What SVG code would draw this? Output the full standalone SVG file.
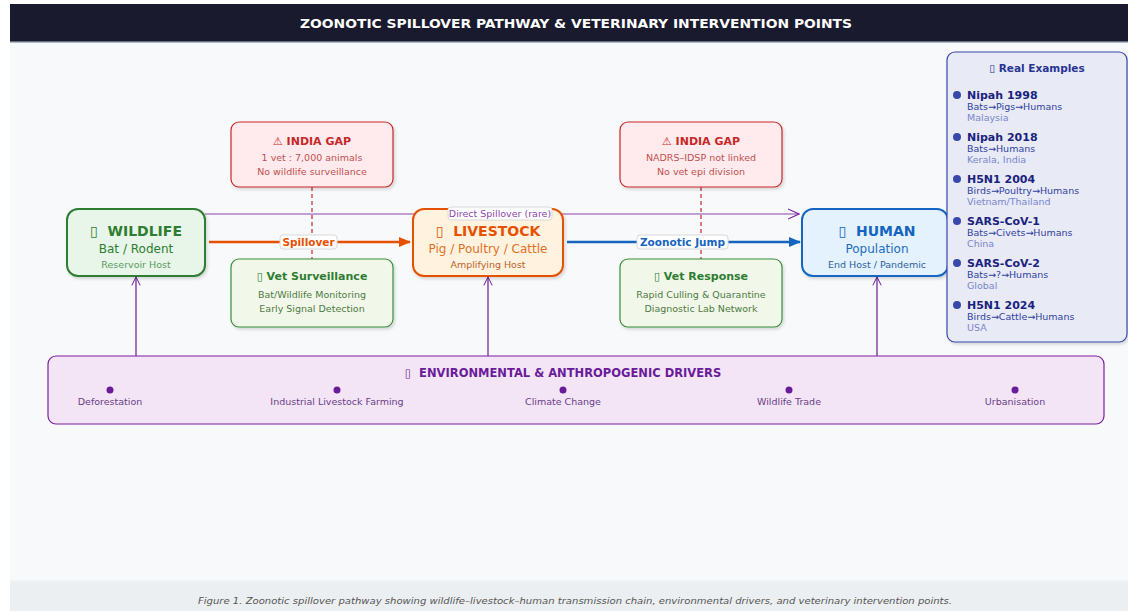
<svg xmlns="http://www.w3.org/2000/svg" width="1128" height="611" viewBox="0 0 1128 611">
<style>
text{font-family:"DejaVu Sans","Noto Sans",sans-serif}
.t{font-family:"DejaVu Sans Condensed","DejaVu Sans",sans-serif;font-weight:bold;fill:#fff;font-size:13px}
.cap{font-family:"DejaVu Sans Condensed","DejaVu Sans",sans-serif;font-style:italic;fill:#555;font-size:9.5px}
.nt{font-weight:bold;font-size:14px}
.ns{font-size:12px}
.nh{font-size:9.5px}
.gh{font-weight:bold;font-size:11px;fill:#c62828}
.gs{font-size:9.5px;fill:#c0504d}
.vh{font-weight:bold;font-size:11px;fill:#2e7d32}
.vs{font-size:9.5px;fill:#4f7a43}
.dr{font-size:9.5px;fill:#6a3d8a}
.eh{font-weight:bold;font-size:11px;fill:#1a237e}
.es{font-size:9.5px;fill:#303f9f}
.el{font-size:9.5px;fill:#7986cb}
.lbl{fill:#fff;stroke:#d8d8d8;stroke-width:1}
.tf{font-weight:normal}
</style>
<defs>
<filter id="sh" x="-10%" y="-10%" width="125%" height="130%">
<feDropShadow dx="1.5" dy="2" stdDeviation="1.5" flood-color="#000" flood-opacity="0.15"/>
</filter>
<marker id="aO" viewBox="0 0 10 10" refX="9" refY="5" markerWidth="5" markerHeight="5" orient="auto" markerUnits="strokeWidth">
<path d="M0,1 L10,5 L0,9 Z" fill="#e65100"/>
</marker>
<marker id="aB" viewBox="0 0 10 10" refX="9" refY="5" markerWidth="5" markerHeight="5" orient="auto" markerUnits="strokeWidth">
<path d="M0,1 L10,5 L0,9 Z" fill="#1565c0"/>
</marker>
<marker id="aP" viewBox="0 0 12 12" refX="11" refY="6" markerWidth="12" markerHeight="12" orient="auto" markerUnits="userSpaceOnUse">
<path d="M0,1 L11,6 L0,11" fill="none" stroke="#7b1fa2" stroke-width="1.1"/>
</marker>
<marker id="aV" viewBox="0 0 12 12" refX="11" refY="6" markerWidth="10" markerHeight="10" orient="auto" markerUnits="userSpaceOnUse">
<path d="M1,1 L11,6 L1,11" fill="none" stroke="#6a1b9a" stroke-width="1.2"/>
</marker>
</defs>

<rect x="0" y="0" width="1128" height="611" fill="#ffffff"/>
<rect x="10" y="42" width="1118" height="540" fill="#f8f9fa"/>
<rect x="10" y="581" width="1118" height="30" fill="#eceff1"/>
<rect x="10" y="580" width="1118" height="1.5" fill="#f1f5f9"/>
<rect x="10" y="4" width="1118" height="38" fill="#1a1a2e"/>
<rect x="10" y="41.5" width="1118" height="1.5" fill="#b0bec5"/>
<text class="t" x="576" y="28" text-anchor="middle" textLength="552" lengthAdjust="spacingAndGlyphs">ZOONOTIC SPILLOVER PATHWAY &amp; VETERINARY INTERVENTION POINTS</text>
<text class="cap" x="575" y="604" text-anchor="middle" textLength="754" lengthAdjust="spacingAndGlyphs">Figure 1. Zoonotic spillover pathway showing wildlife–livestock–human transmission chain, environmental drivers, and veterinary intervention points.</text>

<g id="connectors">
<line x1="312" y1="187" x2="312" y2="259" stroke="#c62828" stroke-width="1.2" stroke-dasharray="4,3"/>
<line x1="701" y1="187" x2="701" y2="259" stroke="#c62828" stroke-width="1.2" stroke-dasharray="4,3"/>
<line x1="205" y1="214" x2="799" y2="214" stroke="#8e44ad" stroke-width="1.2" marker-end="url(#aP)"/>
<line x1="209" y1="242" x2="410" y2="242" stroke="#e65100" stroke-width="2.5" marker-end="url(#aO)"/>
<line x1="567" y1="242" x2="800" y2="242" stroke="#1565c0" stroke-width="2.5" marker-end="url(#aB)"/>
<line x1="136" y1="356" x2="136" y2="277" stroke="#6a1b9a" stroke-width="1.2" marker-end="url(#aV)"/>
<line x1="488" y1="356" x2="488" y2="277" stroke="#6a1b9a" stroke-width="1.2" marker-end="url(#aV)"/>
<line x1="877" y1="356" x2="877" y2="277" stroke="#6a1b9a" stroke-width="1.2" marker-end="url(#aV)"/>
</g>

<g id="gap1">
<rect x="231" y="122" width="162" height="65" rx="8" fill="#ffebee" stroke="#c62828" stroke-width="1.2" filter="url(#sh)"/>
<text class="gh" x="312" y="145" text-anchor="middle">⚠︎ INDIA GAP</text>
<text class="gs" x="312" y="161" text-anchor="middle">1 vet : 7,000 animals</text>
<text class="gs" x="312" y="175" text-anchor="middle">No wildlife surveillance</text>
</g>
<g id="gap2">
<rect x="620" y="122" width="162" height="65" rx="8" fill="#ffebee" stroke="#c62828" stroke-width="1.2" filter="url(#sh)"/>
<text class="gh" x="701" y="145" text-anchor="middle">⚠︎ INDIA GAP</text>
<text class="gs" x="701" y="161" text-anchor="middle">NADRS–IDSP not linked</text>
<text class="gs" x="701" y="175" text-anchor="middle">No vet epi division</text>
</g>

<g id="vet1">
<rect x="231" y="259" width="162" height="68" rx="8" fill="#f1f8e9" stroke="#388e3c" stroke-width="1.2" filter="url(#sh)"/>
<text class="vh" x="312" y="280" text-anchor="middle"><tspan class="tf">▯</tspan> Vet Surveillance</text>
<text class="vs" x="312" y="298" text-anchor="middle">Bat/Wildlife Monitoring</text>
<text class="vs" x="312" y="312" text-anchor="middle">Early Signal Detection</text>
</g>
<g id="vet2">
<rect x="620" y="259" width="162" height="68" rx="8" fill="#f1f8e9" stroke="#388e3c" stroke-width="1.2" filter="url(#sh)"/>
<text class="vh" x="701" y="280" text-anchor="middle"><tspan class="tf">▯</tspan> Vet Response</text>
<text class="vs" x="701" y="298" text-anchor="middle">Rapid Culling &amp; Quarantine</text>
<text class="vs" x="701" y="312" text-anchor="middle">Diagnostic Lab Network</text>
</g>

<g id="wildlife">
<rect x="67" y="209" width="138" height="67" rx="11" fill="#e8f5e9" stroke="#2e7d32" stroke-width="2" filter="url(#sh)"/>
<text class="nt" x="136" y="236" text-anchor="middle" fill="#2e7d32" xml:space="preserve"><tspan class="tf">▯</tspan>  WILDLIFE</text>
<text class="ns" x="136" y="253" text-anchor="middle" fill="#2e7d32">Bat / Rodent</text>
<text class="nh" x="136" y="268" text-anchor="middle" fill="#5a9a5e">Reservoir Host</text>
</g>
<g id="livestock">
<rect x="413" y="209" width="150" height="67" rx="11" fill="#fff3e0" stroke="#e65100" stroke-width="2" filter="url(#sh)"/>
<text class="nt" x="488" y="236" text-anchor="middle" fill="#e65100" xml:space="preserve"><tspan class="tf">▯</tspan>  LIVESTOCK</text>
<text class="ns" x="488" y="253" text-anchor="middle" fill="#e0711f">Pig / Poultry / Cattle</text>
<text class="nh" x="488" y="268" text-anchor="middle" fill="#c0602a">Amplifying Host</text>
</g>
<g id="human">
<rect x="802" y="209" width="146" height="67" rx="11" fill="#e3f2fd" stroke="#1565c0" stroke-width="2" filter="url(#sh)"/>
<text class="nt" x="877" y="236" text-anchor="middle" fill="#1565c0" xml:space="preserve"><tspan class="tf">▯</tspan>  HUMAN</text>
<text class="ns" x="877" y="253" text-anchor="middle" fill="#1e6bc0">Population</text>
<text class="nh" x="877" y="268" text-anchor="middle" fill="#2f5f9f">End Host / Pandemic</text>
</g>

<g id="labels">
<rect class="lbl" x="448" y="207" width="104" height="13" rx="3"/>
<text x="500" y="217" text-anchor="middle" font-size="9.5" fill="#8e44ad">Direct Spillover (rare)</text>
<rect class="lbl" x="280" y="235" width="57" height="14" rx="3"/>
<text x="308.5" y="246" text-anchor="middle" font-size="10.5" font-weight="bold" fill="#e65100">Spillover</text>
<rect class="lbl" x="637" y="235" width="91" height="14" rx="3"/>
<text x="682.5" y="246" text-anchor="middle" font-size="10.5" font-weight="bold" fill="#1565c0">Zoonotic Jump</text>
</g>

<g id="drivers">
<rect x="48" y="356" width="1056" height="68" rx="8" fill="#f3e5f5" stroke="#7b1fa2" stroke-width="1.2"/>
<text x="563" y="377" text-anchor="middle" font-size="11.5" font-weight="bold" fill="#6a1b9a" xml:space="preserve"><tspan class="tf">▯</tspan>  ENVIRONMENTAL &amp; ANTHROPOGENIC DRIVERS</text>
<g fill="#6a1b9a">
<circle cx="110" cy="390" r="3.5"/>
<circle cx="337" cy="390" r="3.5"/>
<circle cx="563" cy="390" r="3.5"/>
<circle cx="789" cy="390" r="3.5"/>
<circle cx="1015" cy="390" r="3.5"/>
</g>
<text class="dr" x="110" y="405" text-anchor="middle">Deforestation</text>
<text class="dr" x="337" y="405" text-anchor="middle">Industrial Livestock Farming</text>
<text class="dr" x="563" y="405" text-anchor="middle">Climate Change</text>
<text class="dr" x="789" y="405" text-anchor="middle">Wildlife Trade</text>
<text class="dr" x="1015" y="405" text-anchor="middle">Urbanisation</text>
</g>

<g id="examples">
<rect x="947" y="52" width="180" height="290" rx="8" fill="#e8eaf6" stroke="#3949ab" stroke-width="1.2" filter="url(#sh)"/>
<text x="1037" y="72" text-anchor="middle" font-size="10.5" font-weight="bold" fill="#283593"><tspan class="tf">▯</tspan> Real Examples</text>
<g fill="#3949ab">
<circle cx="957" cy="95" r="4"/>
<circle cx="957" cy="137" r="4"/>
<circle cx="957" cy="179" r="4"/>
<circle cx="957" cy="221" r="4"/>
<circle cx="957" cy="263" r="4"/>
<circle cx="957" cy="305" r="4"/>
</g>
<text class="eh" x="967" y="99">Nipah 1998</text>
<text class="es" x="967" y="110">Bats→Pigs→Humans</text>
<text class="el" x="967" y="121">Malaysia</text>
<text class="eh" x="967" y="141">Nipah 2018</text>
<text class="es" x="967" y="152">Bats→Humans</text>
<text class="el" x="967" y="163">Kerala, India</text>
<text class="eh" x="967" y="183">H5N1 2004</text>
<text class="es" x="967" y="194">Birds→Poultry→Humans</text>
<text class="el" x="967" y="205">Vietnam/Thailand</text>
<text class="eh" x="967" y="225">SARS-CoV-1</text>
<text class="es" x="967" y="236">Bats→Civets→Humans</text>
<text class="el" x="967" y="247">China</text>
<text class="eh" x="967" y="267">SARS-CoV-2</text>
<text class="es" x="967" y="278">Bats→?→Humans</text>
<text class="el" x="967" y="289">Global</text>
<text class="eh" x="967" y="309">H5N1 2024</text>
<text class="es" x="967" y="320">Birds→Cattle→Humans</text>
<text class="el" x="967" y="331">USA</text>
</g>
</svg>
